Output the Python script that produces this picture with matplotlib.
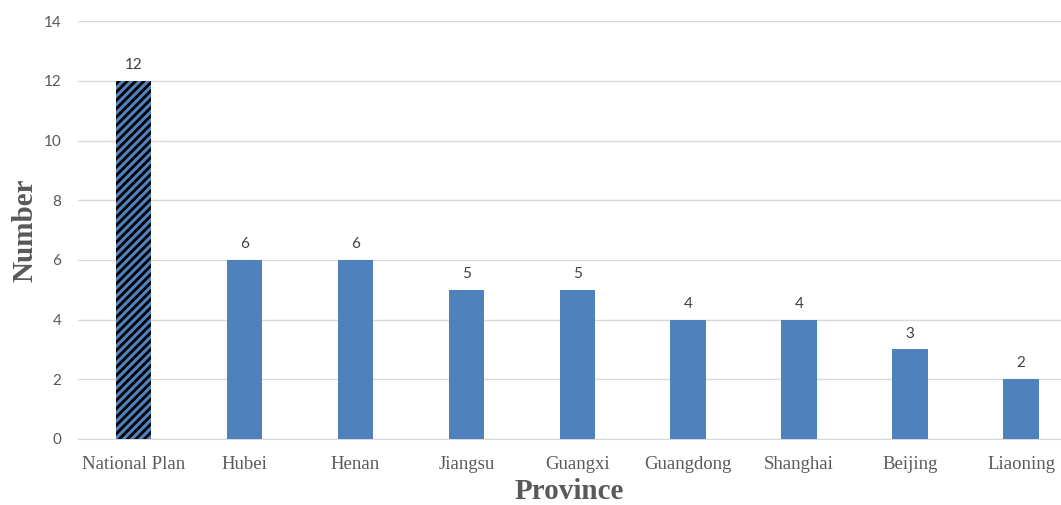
import numpy as np
import matplotlib.pyplot as plt

provinces = ['National Plan', 'Hubei', 'Henan', 'Jiangsu', 'Guangxi',
             'Guangdong', 'Shanghai', 'Beijing', 'Liaoning']
counts = [12, 6, 6, 5, 5, 4, 4, 3, 2]

blue = '#4F81BD'
grey_txt = '#595959'

plt.rcParams['hatch.linewidth'] = 2.0
plt.rcParams['hatch.color'] = 'black'

fig = plt.figure(figsize=(10.61, 5.05), dpi=100)
ax = fig.add_axes([0.0735, 0.1307, 0.9265, 0.8273])

x = np.arange(len(provinces))
bars = ax.bar(x, counts, width=0.32, color=blue, zorder=3)
bars[0].set_hatch('////')
bars[0].set_edgecolor('black')
bars[0].set_linewidth(0)

for xi, v in zip(x, counts):
    ax.text(xi, v + 0.3, str(v), ha='center', va='bottom',
            fontsize=11, color='#404040', family='Lato')

ax.set_xlim(-0.5, 8.36)
ax.set_ylim(0, 14)
ax.set_yticks(range(0, 15, 2))
ax.set_xticks(x)
ax.set_xticklabels(provinces, family='Liberation Serif', fontsize=13.5, color=grey_txt)
for lab in ax.get_yticklabels():
    lab.set_family('Lato')
    lab.set_fontsize(11)
    lab.set_color(grey_txt)

ax.grid(axis='y', color='#D9D9D9', linewidth=1, zorder=0)
for s in ['top', 'right', 'left']:
    ax.spines[s].set_visible(False)
ax.spines['bottom'].set_color('#D9D9D9')
ax.tick_params(length=0, pad=12)
ax.tick_params(axis='x', pad=12)

ax.set_xlabel('Province', family='Liberation Serif', fontsize=21,
              fontweight='bold', color=grey_txt, labelpad=4)
ax.set_ylabel('Number', family='Liberation Serif', fontsize=21,
              fontweight='bold', color=grey_txt, labelpad=4)

plt.savefig('out.png', dpi=100)
